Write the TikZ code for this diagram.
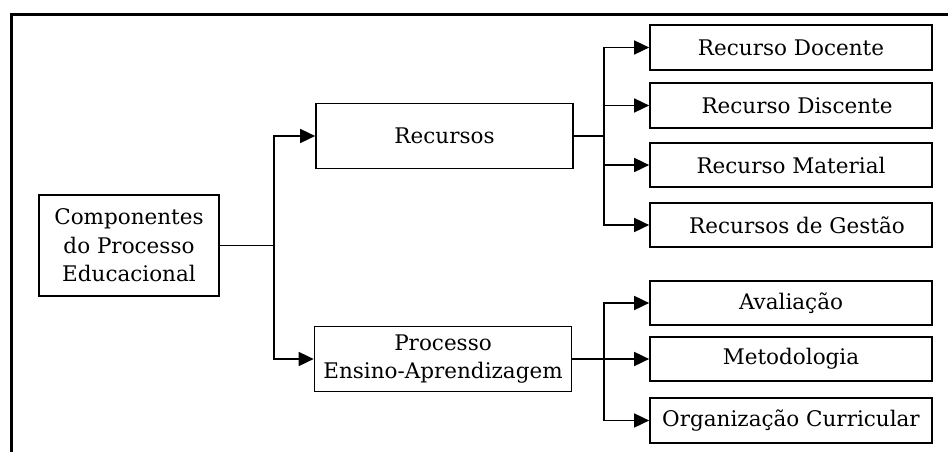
\documentclass[tikz,border=0pt]{standalone}
\usepackage{fontspec}
\setmainfont{DejaVu Serif}
\usetikzlibrary{arrows.meta}
\begin{document}
\begin{tikzpicture}[x=1pt,y=-1pt,
  box/.style={draw,line width=1.7pt,inner sep=0pt,align=center,
    font=\fontsize{21.5}{28.5}\selectfont},
  leaf/.style={box,minimum width=282pt,minimum height=44.5pt},
  mid/.style={box,minimum width=257pt,minimum height=65pt},
  link/.style={line width=1.7pt},
  arr/.style={link,-{Triangle[length=15pt,width=14pt]}}]
\useasboundingbox (0,0) rectangle (948,452);
% open frame: left and top edges only
\draw[line width=3pt] (11,452) -- (11,14.5) -- (948,14.5);

% root
\node[box,minimum width=180pt,minimum height=101pt] (comp) at (129,245.5)
  {Componentes\\do Processo\\Educacional};

% second level
\node[mid] (rec)  at (444.5,136) {Recursos};
\node[mid] (proc) at (443,359) {Processo\\Ensino-Aprendizagem};

% leaves of Recursos
\node[leaf] (doc)  at (791,47.5)  {Recurso Docente};
\node[leaf] (disc) at (791,105.5) {\hspace*{12pt}Recurso Discente};
\node[leaf] (mat)  at (791,165)   {Recurso Material};
\node[leaf] (gest) at (791,225)   {\hspace*{12pt}Recursos de Gestão};

% leaves of Processo Ensino-Aprendizagem
\node[leaf] (aval) at (791,303)   {Avaliação};
\node[leaf] (met)  at (791,359)   {Metodologia};
\node[leaf] (org)  at (791,420.5) {Organização Curricular};

% junction points
\coordinate (j1) at (274,245.5);
\coordinate (j2) at (604,136);
\coordinate (j3) at (604,359);

% connectors
\draw[link] (comp.east) -- (j1);
\draw[arr] (j1) |- (rec.west);
\draw[arr] (j1) |- (proc.west);

\draw[link] (rec.east) -- (j2);
\draw[arr] (j2) |- (doc.west);
\draw[arr] (j2) |- (disc.west);
\draw[arr] (j2) |- (mat.west);
\draw[arr] (j2) |- (gest.west);

\draw[link] (proc.east) -- (j3);
\draw[arr] (j3) |- (aval.west);
\draw[arr] (j3) -- (met.west);
\draw[arr] (j3) |- (org.west);
\end{tikzpicture}
\end{document}
